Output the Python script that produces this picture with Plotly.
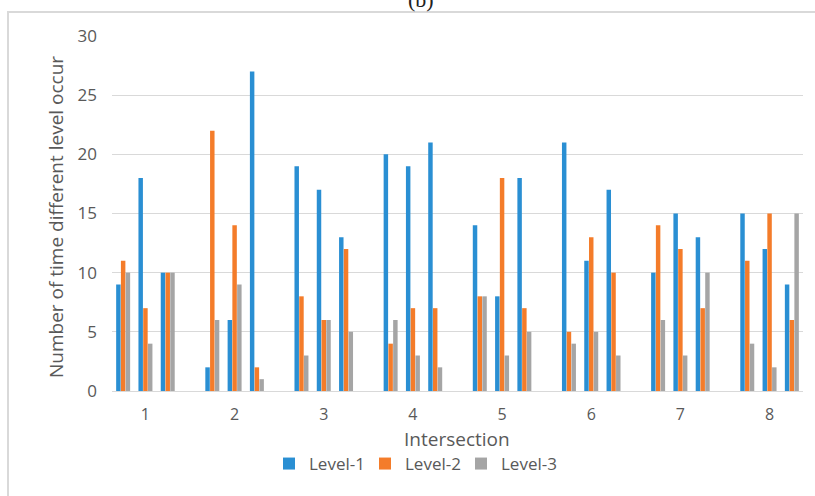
import plotly.graph_objects as go

# ---- data ----
intersections = ["1", "2", "3", "4", "5", "6", "7", "8"]
series_names = ["Level-1", "Level-2", "Level-3"]
level1 = [9, 18, 10, 2, 6, 27, 19, 17, 13, 20, 19, 21, 14, 8, 18, 21, 11, 17, 10, 15, 13, 15, 12, 9]
level2 = [11, 7, 10, 22, 14, 2, 8, 6, 12, 4, 7, 7, 8, 18, 7, 5, 13, 10, 14, 12, 7, 11, 15, 6]
level3 = [10, 4, 10, 6, 9, 1, 3, 6, 5, 6, 3, 2, 8, 3, 5, 4, 5, 3, 6, 3, 10, 4, 2, 15]
colors = ["#2A8FD3", "#F47C2A", "#A5A5A5"]

groups_per_int = 3
slot = groups_per_int + 1  # one empty slot between intersections
xpos = [(i // groups_per_int) * slot + (i % groups_per_int) for i in range(len(level1))]
tickvals = [k * slot + 1 for k in range(len(intersections))]

fig = go.Figure()
for name, vals, c in zip(series_names, [level1, level2, level3], colors):
    fig.add_trace(go.Bar(x=xpos, y=vals, name=name, marker=dict(color=c, line=dict(width=0))))

W, H = 815, 496
L, R, T, B = 112, 12, 36, 105
pw, ph = W - L - R, H - T - B

def px_x(p):
    return (p - L) / pw

def px_y(p):
    return (H - B - p) / ph

font_fam = "'Open Sans', sans-serif"
fig.update_layout(
    width=W, height=H,
    margin=dict(l=L, r=R, t=T, b=B, autoexpand=False),
    paper_bgcolor="white", plot_bgcolor="white",
    barmode="group", bargap=0.36, bargroupgap=0.06,
    font=dict(family=font_fam, color="#595959"),
    showlegend=True,
    legend=dict(orientation="h", x=px_x(269), xanchor="left", y=px_y(464), yanchor="middle",
                font=dict(size=17, color="#595959"), itemwidth=30, tracegroupgap=0,
                entrywidth=51, entrywidthmode="pixels", traceorder="normal"),
    xaxis=dict(range=[-0.5, xpos[-1] + 0.5], tickmode="array", tickvals=tickvals,
               ticktext=intersections, showgrid=False, showline=True, linecolor="#d9d9d9",
               linewidth=1, ticks="", tickfont=dict(size=16, color="#595959"),
               ticklabelstandoff=9, zeroline=False),
    yaxis=dict(range=[0, 30], dtick=5, showgrid=True, gridcolor="#d9d9d9", gridwidth=1,
               zeroline=False, showline=False, ticks="", tickfont=dict(size=17, color="#595959"),
               ticklabelstandoff=14),
    shapes=[dict(type="rect", xref="paper", yref="paper",
                 x0=px_x(8), x1=px_x(830), y0=px_y(12), y1=px_y(510),
                 line=dict(color="#d9d9d9", width=2), fillcolor="rgba(0,0,0,0)", layer="below")],
    annotations=[
        dict(text="Number of time different level occur", xref="paper", yref="paper",
             x=px_x(56), y=px_y(217), textangle=-90, showarrow=False,
             xanchor="center", yanchor="middle", font=dict(size=19, color="#595959")),
        dict(text="Intersection", xref="paper", yref="paper",
             x=px_x(457), y=px_y(439), showarrow=False,
             xanchor="center", yanchor="middle", font=dict(size=19, color="#595959")),
        dict(text="(b)", xref="paper", yref="paper",
             x=px_x(421), y=px_y(0), showarrow=False,
             xanchor="center", yanchor="middle",
             font=dict(size=22, color="#222222", family="'Liberation Serif', serif")),
    ],
)

fig.write_html("out.html", config={"displayModeBar": False},
               post_script="document.body.style.margin='0';document.body.style.padding='0';")
